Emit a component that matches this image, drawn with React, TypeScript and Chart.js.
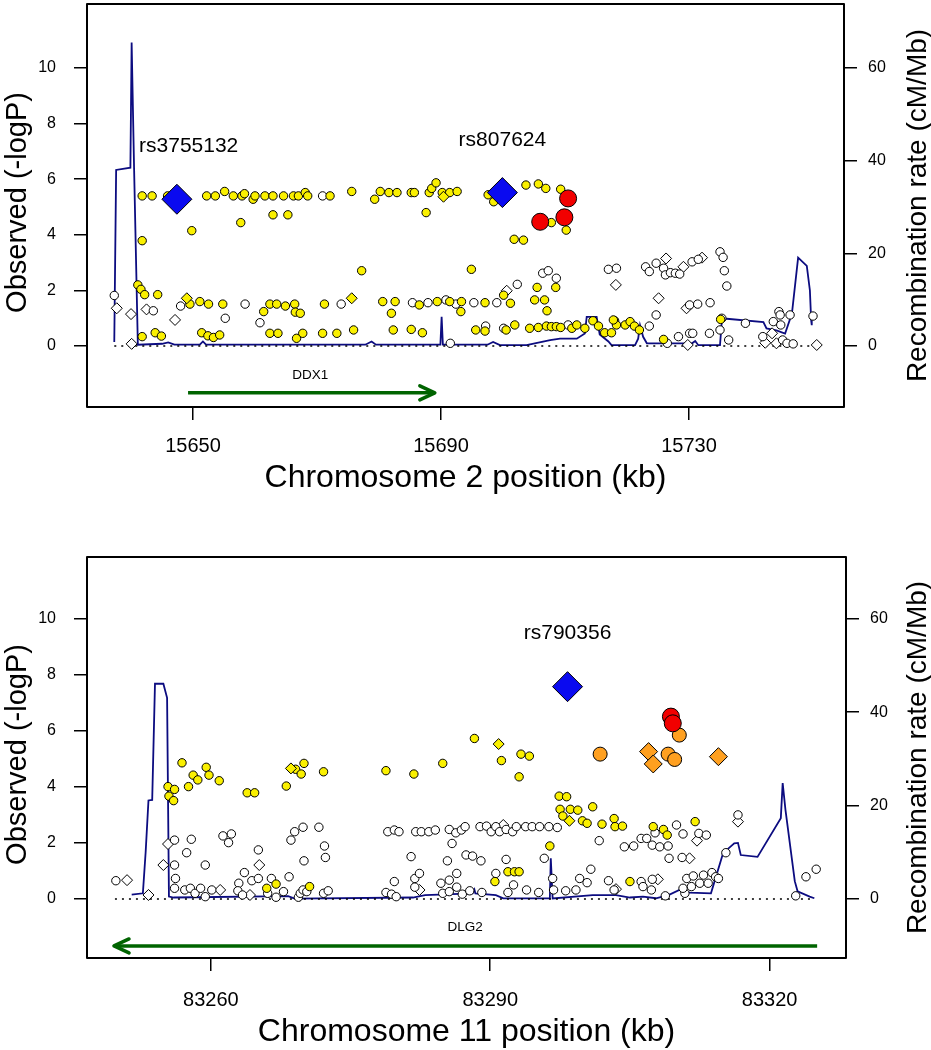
import React, { useEffect, useRef } from 'react';
import { Chart, registerables } from 'chart.js';

Chart.register(...registerables);

const FONT = '"Liberation Sans", Arial, Helvetica, sans-serif';
type P = [number, number];

// ================= Panel 1: chromosome 2 =================
const chr2XTicks = [15650, 15690, 15730];
const chr2LeadSnps: P[] = [[15647.4, 5.28], [15699.9, 5.52]];
const chr2LeadNames = ['rs3755132', 'rs807624'];
const chr2LeadLabelX = [15649.3, 15699.9];
const chr2Red: P[] = [[15710.5, 5.31], [15706.0, 4.47], [15709.9, 4.63]];
const chr2YellowDiamonds: P[] = [[15649.0, 1.72], [15690.4, 5.37], [15675.6, 1.72]];
const chr2Yellow: P[] = [
  [15641.8, 5.40], [15643.4, 5.40], [15645.9, 5.40], [15652.2, 5.40], [15653.6, 5.40], [15655.1, 5.56],
  [15656.5, 5.40], [15657.9, 5.40], [15658.3, 5.48], [15659.7, 5.28], [15660.0, 5.40], [15661.6, 5.40],
  [15662.9, 5.40], [15664.6, 5.40], [15666.2, 5.40], [15667.0, 5.40], [15668.1, 5.52], [15668.5, 5.40],
  [15672.1, 5.40], [15675.6, 5.56], [15679.3, 5.28], [15680.2, 5.56], [15681.6, 5.52], [15682.9, 5.52],
  [15685.2, 5.52], [15685.7, 5.52], [15688.1, 5.52], [15688.5, 5.67], [15689.2, 5.87], [15690.2, 5.52],
  [15691.4, 5.52], [15692.6, 5.56], [15687.6, 4.80], [15697.6, 5.44], [15698.5, 5.19], [15703.7, 5.79],
  [15705.7, 5.83], [15706.9, 5.67], [15709.3, 5.64], [15707.8, 4.44], [15710.2, 4.17], [15701.8, 3.84],
  [15703.3, 3.81], [15662.9, 4.72], [15665.3, 4.72], [15657.7, 4.44], [15649.8, 4.15], [15641.8, 3.79],
  [15641.1, 2.20], [15641.6, 2.04], [15642.2, 1.85], [15644.3, 1.85], [15649.5, 1.51], [15651.1, 1.60],
  [15652.5, 1.51], [15654.8, 1.51], [15661.4, 1.24], [15662.4, 1.51], [15663.5, 1.51], [15664.9, 1.44],
  [15666.4, 1.51], [15666.5, 1.22], [15667.3, 1.18], [15671.2, 1.51], [15677.2, 2.71], [15694.9, 2.76],
  [15705.5, 2.11], [15708.5, 2.11], [15705.1, 1.66], [15706.7, 1.66], [15707.1, 1.27], [15700.1, 1.83],
  [15701.2, 1.54], [15680.6, 1.60], [15682.6, 1.60], [15686.5, 1.48], [15689.4, 1.60], [15691.4, 1.60],
  [15693.3, 1.60], [15697.1, 1.56], [15682.0, 1.18], [15693.2, 1.24],
  [15641.8, 0.34], [15643.9, 0.48], [15644.9, 0.36], [15651.4, 0.48], [15652.4, 0.37], [15653.3, 0.31],
  [15654.3, 0.40], [15662.4, 0.46], [15663.7, 0.46], [15666.7, 0.28], [15667.7, 0.46], [15670.9, 0.46],
  [15673.2, 0.46], [15675.9, 0.58], [15682.3, 0.58], [15685.2, 0.60], [15687.0, 0.48], [15695.6, 0.58],
  [15697.1, 0.54], [15700.5, 0.58], [15701.9, 0.76], [15704.3, 0.64], [15705.7, 0.67], [15707.0, 0.72],
  [15707.8, 0.70], [15708.6, 0.70], [15709.3, 0.67], [15711.1, 0.64], [15711.9, 0.76], [15713.2, 0.64],
  [15714.5, 0.91], [15715.4, 0.72], [15716.4, 0.48], [15717.5, 0.48], [15718.0, 0.91], [15718.3, 0.76],
  [15717.8, 0.94], [15719.7, 0.76], [15720.5, 0.88], [15721.2, 0.72], [15722.0, 0.58], [15725.9, 0.24],
  [15735.1, 0.96],
];
const chr2White: P[] = [
  [15637.3, 1.82], [15643.6, 1.27], [15648.0, 1.44], [15655.2, 1.00], [15658.4, 1.51], [15660.8, 0.84],
  [15673.9, 1.51], [15670.9, 5.40], [15706.4, 2.62], [15707.3, 2.71], [15708.6, 2.44], [15702.3, 2.22],
  [15685.4, 1.56], [15687.9, 1.56], [15690.8, 1.66], [15692.4, 1.51], [15695.3, 1.56], [15699.0, 1.56],
  [15691.5, 0.10], [15697.2, 0.72], [15700.1, 0.64], [15710.5, 0.76], [15717.0, 2.76], [15718.3, 2.80],
  [15723.6, 0.72], [15724.7, 1.12], [15723.0, 2.85], [15723.6, 2.68], [15724.7, 2.98], [15725.9, 2.80],
  [15726.2, 2.56], [15727.0, 2.64], [15727.8, 2.62], [15728.5, 2.59], [15730.5, 3.03], [15731.5, 3.12],
  [15735.0, 3.39], [15735.5, 3.19], [15735.7, 2.71], [15736.1, 2.16], [15730.1, 1.48], [15731.4, 1.51],
  [15733.4, 1.56], [15726.5, 0.10], [15728.3, 0.34], [15730.1, 0.46], [15730.6, 0.46], [15733.3, 0.46],
  [15735.0, 0.58], [15735.3, 1.00], [15736.4, 0.22], [15739.1, 0.82], [15741.9, 0.34], [15743.6, 0.88],
  [15744.5, 1.24], [15744.7, 1.12], [15744.8, 0.76], [15745.1, 0.22], [15745.8, 0.10], [15746.3, 1.12],
  [15746.8, 0.08], [15750.0, 1.08],
];
const chr2WhiteDiamonds: P[] = [
  [15637.7, 1.36], [15640.0, 1.15], [15642.5, 1.32], [15647.1, 0.94], [15640.1, 0.08], [15700.6, 1.99],
  [15718.2, 2.20], [15725.1, 1.72], [15726.3, 3.15], [15729.1, 2.85], [15732.1, 3.18], [15729.6, 1.36],
  [15729.8, 0.04], [15742.3, 0.12], [15743.4, 0.46], [15744.1, 0.10], [15750.6, 0.04],
];
const chr2Recomb: P[] = [
  [15637.3, 0.9], [15637.6, 38.0], [15639.9, 38.5], [15640.1, 65.5], [15640.5, 38.0], [15641.1, 0.3],
  [15645.0, 0.5], [15646.0, 0.8], [15647.0, 0.3], [15651.1, 0.3], [15651.6, 1.0], [15652.1, 0.3],
  [15677.8, 0.3], [15678.8, 1.0], [15679.5, 0.3], [15689.9, 0.3], [15690.1, 6.3], [15690.3, 0.3],
  [15697.5, 0.3], [15698.4, 0.9], [15699.5, 0.2], [15703.8, 0.2], [15707.6, 1.3], [15709.2, 1.6],
  [15711.9, 1.6], [15713.2, 2.7], [15713.5, 6.3], [15715.1, 6.3], [15715.6, 2.5], [15717.0, 1.0],
  [15717.5, 0.2], [15721.3, 0.2], [15721.8, 1.6], [15722.1, 4.5], [15722.6, 2.0], [15723.2, 0.6],
  [15730.5, 0.6], [15731.0, 1.1], [15731.5, 0.2], [15735.0, 0.2], [15735.3, 5.6], [15736.1, 5.9],
  [15742.0, 5.2], [15742.5, 3.8], [15744.1, 3.4], [15745.5, 2.7], [15746.6, 7.0], [15747.6, 19.1],
  [15749.0, 17.3], [15749.5, 12.0], [15749.7, 5.6], [15749.8, 4.5],
];
const chr2Baseline: P[] = [[15637.3, 0], [15750.4, 0]];
const chr2Gene: P[] = [[15649.2, -1.68], [15689.0, -1.68]];
const chr2GeneName = 'DDX1';
const chr2GeneLabelAt: P = [15668.9, -1.04];

// ================= Panel 2: chromosome 11 =================
const chr11XTicks = [83260, 83290, 83320];
const chr11LeadSnps: P[] = [[83298.3, 7.58]];
const chr11LeadNames = ['rs790356'];
const chr11LeadLabelX = [83298.3];
const chr11Red: P[] = [[83309.4, 6.51], [83309.6, 6.27]];
const chr11Orange: P[] = [[83301.8, 5.17], [83310.3, 5.85], [83309.1, 5.17], [83309.8, 4.98]];
const chr11OrangeDiamonds: P[] = [[83307.0, 5.26], [83307.5, 4.82], [83314.5, 5.08]];
const chr11YellowDiamonds: P[] = [[83268.6, 4.66], [83290.9, 5.53], [83298.5, 2.79]];
const chr11Yellow: P[] = [
  [83256.9, 4.86], [83255.4, 4.01], [83256.1, 3.91], [83255.5, 3.67], [83256.0, 3.51], [83257.6, 4.01],
  [83258.1, 4.42], [83258.6, 4.25], [83259.5, 4.70], [83259.8, 4.42], [83260.9, 4.22], [83263.9, 3.79],
  [83264.7, 3.79], [83268.1, 4.03], [83269.1, 4.63], [83270.0, 4.84], [83269.7, 4.46], [83272.1, 4.54],
  [83266.0, 0.38], [83267.0, 0.53], [83270.6, 0.44], [83288.3, 5.73], [83293.3, 5.17], [83294.2, 5.10],
  [83291.2, 4.94], [83284.9, 4.84], [83278.8, 4.58], [83281.8, 4.46], [83293.1, 4.36], [83297.4, 3.67],
  [83298.2, 3.65], [83297.5, 3.20], [83298.6, 3.20], [83299.4, 3.17], [83301.0, 3.29], [83297.8, 2.96],
  [83299.9, 2.79], [83300.4, 2.70], [83302.0, 2.67], [83303.3, 2.87], [83303.4, 2.58], [83296.4, 1.89],
  [83291.9, 0.97], [83292.6, 0.97], [83293.1, 0.97], [83290.5, 0.62], [83304.2, 2.60], [83307.5, 2.58],
  [83308.6, 2.48], [83309.0, 2.28], [83312.0, 2.76], [83305.0, 0.62],
];
const chr11White: P[] = [
  [83249.8, 0.65], [83256.1, 2.10], [83257.4, 1.65], [83257.9, 2.13], [83256.1, 1.21], [83259.4, 1.21],
  [83256.2, 0.73], [83256.1, 0.38], [83257.2, 0.32], [83257.8, 0.38], [83258.3, 0.20], [83258.9, 0.38],
  [83259.4, 0.08], [83260.1, 0.32], [83261.3, 2.25], [83262.2, 2.32], [83261.9, 2.01], [83265.1, 1.75],
  [83263.6, 0.94], [83263.0, 0.56], [83264.4, 0.65], [83265.1, 0.73], [83262.9, 0.29], [83263.4, 0.14],
  [83266.1, 0.20], [83266.5, 0.73], [83267.0, 0.06], [83267.8, 0.26], [83268.4, 0.79], [83268.6, 2.10],
  [83269.0, 2.40], [83269.9, 2.56], [83271.6, 2.56], [83270.0, 1.36], [83272.2, 1.89], [83272.3, 1.48],
  [83269.4, 0.06], [83269.6, 0.20], [83269.9, 0.32], [83270.3, 0.26], [83272.1, 0.20], [83272.6, 0.29],
  [83279.0, 2.40], [83279.7, 2.46], [83280.2, 2.40], [83282.0, 2.40], [83282.6, 2.40], [83283.4, 2.40],
  [83284.1, 2.46], [83285.6, 2.48], [83286.3, 2.36], [83286.9, 2.46], [83287.3, 2.58], [83288.9, 2.58],
  [83289.6, 2.60], [83290.1, 2.40], [83290.6, 2.58], [83291.0, 2.40], [83291.7, 2.48], [83292.4, 2.40],
  [83292.8, 2.58], [83293.8, 2.58], [83294.5, 2.58], [83295.3, 2.58], [83296.3, 2.58], [83297.2, 2.55],
  [83285.9, 1.98], [83281.5, 1.51], [83285.4, 1.36], [83287.4, 1.57], [83288.1, 1.53], [83289.0, 1.36],
  [83291.7, 1.41], [83295.8, 1.45], [83301.7, 2.08], [83279.7, 0.62], [83281.9, 0.73], [83282.4, 0.91],
  [83286.4, 0.91], [83285.6, 0.67], [83290.6, 0.91], [83292.5, 0.50], [83293.9, 0.32], [83295.2, 0.23],
  [83296.7, 0.73], [83296.8, 0.32], [83298.1, 0.29], [83299.2, 0.32], [83299.6, 0.73], [83300.4, 0.58],
  [83300.8, 1.06], [83302.7, 0.65], [83303.3, 0.32], [83278.8, 0.23], [83279.4, 0.17], [83279.9, 0.08],
  [83281.9, 0.42], [83284.7, 0.56], [83284.9, 0.20], [83285.6, 0.26], [83286.4, 0.42], [83287.0, 0.17],
  [83287.8, 0.29], [83289.1, 0.23], [83291.9, 0.23],
  [83310.0, 2.64], [83307.7, 2.36], [83310.7, 2.32], [83312.4, 2.34], [83313.2, 2.28], [83316.6, 3.00],
  [83306.2, 2.16], [83306.8, 2.16], [83307.4, 1.92], [83308.2, 1.86], [83309.1, 1.89], [83304.4, 1.86],
  [83305.4, 1.89], [83309.2, 1.45], [83310.6, 1.48], [83315.3, 1.65], [83306.2, 0.62], [83306.4, 0.44],
  [83307.3, 0.32], [83307.4, 0.70], [83308.8, 0.11], [83310.9, 0.20], [83310.7, 0.38], [83311.1, 0.73],
  [83311.6, 0.44], [83311.8, 0.82], [83312.5, 0.56], [83312.9, 0.85], [83313.4, 0.56], [83313.8, 0.94],
  [83314.2, 0.79], [83314.5, 0.73], [83322.8, 0.11], [83323.9, 0.79], [83325.0, 1.06],
];
const chr11WhiteDiamonds: P[] = [
  [83251.0, 0.67], [83253.3, 0.14], [83255.4, 1.96], [83254.9, 1.21], [83261.0, 0.32], [83265.2, 1.21],
  [83264.2, 0.14], [83291.4, 2.64], [83282.4, 0.32], [83312.2, 2.08], [83316.6, 2.76], [83311.4, 1.45],
  [83308.0, 0.70], [83303.5, 0.35],
];
const chr11Recomb: P[] = [
  [83251.5, 0.9], [83252.7, 1.2], [83253.0, 10.1], [83253.3, 21.1], [83253.7, 21.2], [83254.0, 46.1],
  [83254.9, 46.1], [83255.3, 43.1], [83255.5, 0.5], [83256.0, 0.3], [83268.3, 0.6], [83269.0, 0.05],
  [83281.7, 0.3], [83283.0, 0.8], [83288.1, 1.2], [83288.3, 2.0], [83288.4, 1.2], [83290.6, 0.8],
  [83291.4, 0.1], [83296.4, 0.1], [83296.5, 8.7], [83296.7, 0.1], [83301.0, 0.8], [83303.5, 0.8],
  [83305.0, 0.3], [83306.4, 0.5], [83307.8, 0.14], [83309.2, 0.86], [83310.3, 1.93], [83311.4, 1.36],
  [83313.7, 1.2], [83315.0, 9.8], [83316.2, 11.9], [83316.6, 12.0], [83316.9, 9.4], [83318.7, 9.0],
  [83321.2, 17.3], [83321.4, 24.8], [83321.7, 19.1], [83322.7, 3.8], [83323.0, 1.64], [83324.3, 0.5],
  [83324.8, 0.14],
];
const chr11Baseline: P[] = [[83249.7, 0], [83324.8, 0]];
const chr11Gene: P[] = [[83325.1, -1.68], [83249.6, -1.68]];
const chr11GeneName = 'DLG2';
const chr11GeneLabelAt: P = [83287.3, -1.02];

// ================= shared axis settings =================
const yTicks = [0, 2, 4, 6, 8, 10];
const y2Ticks = [0, 20, 40, 60];
const RATE_PER_LOGP = 6;

const YELLOW = '#FAF000';
const BLUE = '#0A0AF0';
const RED = '#F20000';
const ORANGE = '#FFA020';
const NAVY = '#0C0C80';
const GREEN = '#006400';

const toXY = (arr: P[]) => arr.map(([x, y]) => ({ x, y }));

function pts(data: P[], style: string, r: number, fill: string, order: number) {
  return {
    type: 'scatter',
    data: toXY(data),
    pointStyle: style,
    pointRadius: r,
    pointHoverRadius: r,
    pointBackgroundColor: fill,
    pointBorderColor: '#000',
    pointBorderWidth: 1,
    showLine: false,
    order,
    clip: false,
  };
}

function line(data: P[], color: string, width: number, order: number, axis = 'y', dash: number[] = []) {
  return {
    type: 'scatter',
    data: toXY(data),
    yAxisID: axis,
    showLine: true,
    borderColor: color,
    borderWidth: width,
    borderDash: dash,
    pointRadius: 0,
    pointHoverRadius: 0,
    fill: false,
    tension: 0,
    order,
  };
}

const decorPlugin = {
  id: 'decor',
  afterDraw(chart: any, _a: any, o: any) {
    const { ctx, chartArea: a } = chart;
    const xs = chart.scales.x;
    const ys = chart.scales.y;
    ctx.save();
    // gene arrow head
    const gx0 = xs.getPixelForValue(o.gene[0][0]);
    const gx1 = xs.getPixelForValue(o.gene[1][0]);
    const gy = ys.getPixelForValue(o.gene[1][1]);
    const dir = Math.sign(gx1 - gx0);
    ctx.strokeStyle = GREEN;
    ctx.lineWidth = 3.5;
    ctx.lineCap = 'round';
    ctx.lineJoin = 'round';
    ctx.beginPath();
    ctx.moveTo(gx1 - dir * 15, gy - 7);
    ctx.lineTo(gx1, gy);
    ctx.lineTo(gx1 - dir * 15, gy + 7);
    ctx.stroke();
    // gene name
    ctx.fillStyle = '#000';
    ctx.font = `13.5px ${FONT}`;
    ctx.textAlign = 'center';
    ctx.textBaseline = 'middle';
    ctx.fillText(o.geneName, xs.getPixelForValue(o.geneLabel[0]), ys.getPixelForValue(o.geneLabel[1]));
    // lead SNP names
    ctx.font = `21px ${FONT}`;
    o.leads.forEach((p: P, i: number) => {
      ctx.fillText(o.leadNames[i], xs.getPixelForValue(o.leadLabelX[i]), ys.getPixelForValue(p[1] + 1.9));
    });
    // box
    ctx.strokeStyle = '#000';
    ctx.lineWidth = 2;
    ctx.lineCap = 'butt';
    ctx.strokeRect(a.left, a.top, a.right - a.left, a.bottom - a.top);
    // x title
    ctx.textBaseline = 'alphabetic';
    ctx.font = `32px ${FONT}`;
    ctx.fillText(o.xTitle, (a.left + a.right) / 2, o.xTitleY);
    const midY = (a.top + a.bottom) / 2;
    // left title
    ctx.save();
    ctx.translate(26, midY - 3);
    ctx.rotate(-Math.PI / 2);
    ctx.font = `29px ${FONT}`;
    ctx.fillText('Observed (-logP)', 0, 0);
    ctx.restore();
    // right title
    ctx.save();
    ctx.translate(926, midY);
    ctx.rotate(-Math.PI / 2);
    ctx.font = `28px ${FONT}`;
    ctx.fillText('Recombination rate (cM/Mb)', 0, 0);
    ctx.restore();
    ctx.restore();
  },
};

interface Panel {
  xMin: number; xMax: number; yMin: number; yMax: number;
  xTicks: number[];
  top: number; xAxisH: number; rightW: number; xTickPad: number; xTitleY: number;
  xTitle: string;
  datasets: any[];
  leads: P[]; leadNames: string[]; leadLabelX: number[];
  gene: P[]; geneName: string; geneLabel: P;
}

function noPad(s: any) {
  s.paddingTop = 0;
  s.paddingBottom = 0;
  s.paddingLeft = 0;
  s.paddingRight = 0;
}

function makeConfig(p: Panel): any {
  const tickGrid = { drawOnChartArea: false, drawTicks: true, tickLength: 13, color: '#000', lineWidth: 1.5 };
  return {
    type: 'scatter',
    data: { datasets: p.datasets },
    options: {
      responsive: false,
      animation: false,
      events: [],
      layout: { autoPadding: false, padding: { top: p.top, left: 0, right: 0, bottom: 0 } },
      plugins: {
        legend: { display: false },
        tooltip: { enabled: false },
        decor: {
          xTitle: p.xTitle, xTitleY: p.xTitleY, leads: p.leads, leadNames: p.leadNames, leadLabelX: p.leadLabelX,
          gene: p.gene, geneName: p.geneName, geneLabel: p.geneLabel,
        },
      },
      scales: {
        x: {
          type: 'linear', position: 'bottom', min: p.xMin, max: p.xMax,
          afterBuildTicks: (s: any) => { s.ticks = p.xTicks.map((v) => ({ value: v })); },
          afterFit: (s: any) => { s.height = p.xAxisH; noPad(s); },
          ticks: {
            callback: (v: any) => String(v), autoSkip: false, maxRotation: 0, minRotation: 0,
            color: '#000', padding: p.xTickPad, font: { family: FONT, size: 20 },
          },
          grid: tickGrid,
          border: { display: false },
        },
        y: {
          type: 'linear', position: 'left', min: p.yMin, max: p.yMax,
          afterBuildTicks: (s: any) => { s.ticks = yTicks.map((v) => ({ value: v })); },
          afterFit: (s: any) => { s.width = 87; noPad(s); },
          ticks: { callback: (v: any) => String(v), color: '#000', padding: 18, font: { family: FONT, size: 16 } },
          grid: tickGrid,
          border: { display: false },
        },
        y2: {
          type: 'linear', position: 'right', min: p.yMin * RATE_PER_LOGP, max: p.yMax * RATE_PER_LOGP,
          afterBuildTicks: (s: any) => { s.ticks = y2Ticks.map((v) => ({ value: v })); },
          afterFit: (s: any) => { s.width = p.rightW; noPad(s); },
          ticks: { callback: (v: any) => String(v), color: '#000', padding: 11, font: { family: FONT, size: 16 } },
          grid: tickGrid,
          border: { display: false },
        },
      },
    },
    plugins: [decorPlugin],
  };
}

const topPanel: Panel = {
  xMin: 15632.9, xMax: 15755.0, yMin: -2.19, yMax: 12.30, xTicks: chr2XTicks,
  top: 4, xAxisH: 118, rightW: 87, xTickPad: 14, xTitleY: 487,
  xTitle: 'Chromosome 2 position (kb)',
  datasets: [
    pts(chr2LeadSnps, 'rectRot', 15, BLUE, 0),
    pts(chr2Red, 'circle', 8.5, RED, 1),
    pts(chr2YellowDiamonds, 'rectRot', 5.5, YELLOW, 3),
    pts(chr2Yellow, 'circle', 4.2, YELLOW, 4),
    pts(chr2White, 'circle', 4.2, '#FFFFFF', 5),
    pts(chr2WhiteDiamonds, 'rectRot', 5.5, '#FFFFFF', 5),
    line(chr2Baseline, '#000', 1.5, 8, 'y', [2, 5]),
    line(chr2Recomb, NAVY, 1.8, 9, 'y2'),
    line(chr2Gene, GREEN, 3.5, 9),
  ],
  leads: chr2LeadSnps, leadNames: chr2LeadNames, leadLabelX: chr2LeadLabelX,
  gene: chr2Gene, geneName: chr2GeneName, geneLabel: chr2GeneLabelAt,
};

const bottomPanel: Panel = {
  xMin: 83246.7, xMax: 83328.2, yMin: -2.11, yMax: 12.21, xTicks: chr11XTicks,
  top: 32, xAxisH: 92, rightW: 85, xTickPad: 17, xTitleY: 516,
  xTitle: 'Chromosome 11 position (kb)',
  datasets: [
    pts(chr11LeadSnps, 'rectRot', 15, BLUE, 0),
    pts(chr11Red, 'circle', 8.5, RED, 1),
    pts(chr11Orange, 'circle', 7, ORANGE, 2),
    pts(chr11OrangeDiamonds, 'rectRot', 9, ORANGE, 2),
    pts(chr11YellowDiamonds, 'rectRot', 5.5, YELLOW, 3),
    pts(chr11Yellow, 'circle', 4.2, YELLOW, 4),
    pts(chr11White, 'circle', 4.2, '#FFFFFF', 5),
    pts(chr11WhiteDiamonds, 'rectRot', 5.5, '#FFFFFF', 5),
    line(chr11Baseline, '#000', 1.5, 8, 'y', [2, 5]),
    line(chr11Recomb, NAVY, 1.8, 9, 'y2'),
    line(chr11Gene, GREEN, 3.5, 9),
  ],
  leads: chr11LeadSnps, leadNames: chr11LeadNames, leadLabelX: chr11LeadLabelX,
  gene: chr11Gene, geneName: chr11GeneName, geneLabel: chr11GeneLabelAt,
};

export default function App() {
  const topRef = useRef<HTMLCanvasElement>(null);
  const botRef = useRef<HTMLCanvasElement>(null);
  useEffect(() => {
    const c1 = new Chart(topRef.current as HTMLCanvasElement, makeConfig(topPanel));
    const c2 = new Chart(botRef.current as HTMLCanvasElement, makeConfig(bottomPanel));
    return () => { c1.destroy(); c2.destroy(); };
  }, []);
  return (
    <div style={{ position: 'absolute', left: 0, top: 0, width: 931, height: 1050, background: '#fff' }}>
      <canvas ref={topRef} width={931} height={525} style={{ position: 'absolute', left: 0, top: 0, width: 931, height: 525 }} />
      <canvas ref={botRef} width={931} height={525} style={{ position: 'absolute', left: 0, top: 525, width: 931, height: 525 }} />
    </div>
  );
}
